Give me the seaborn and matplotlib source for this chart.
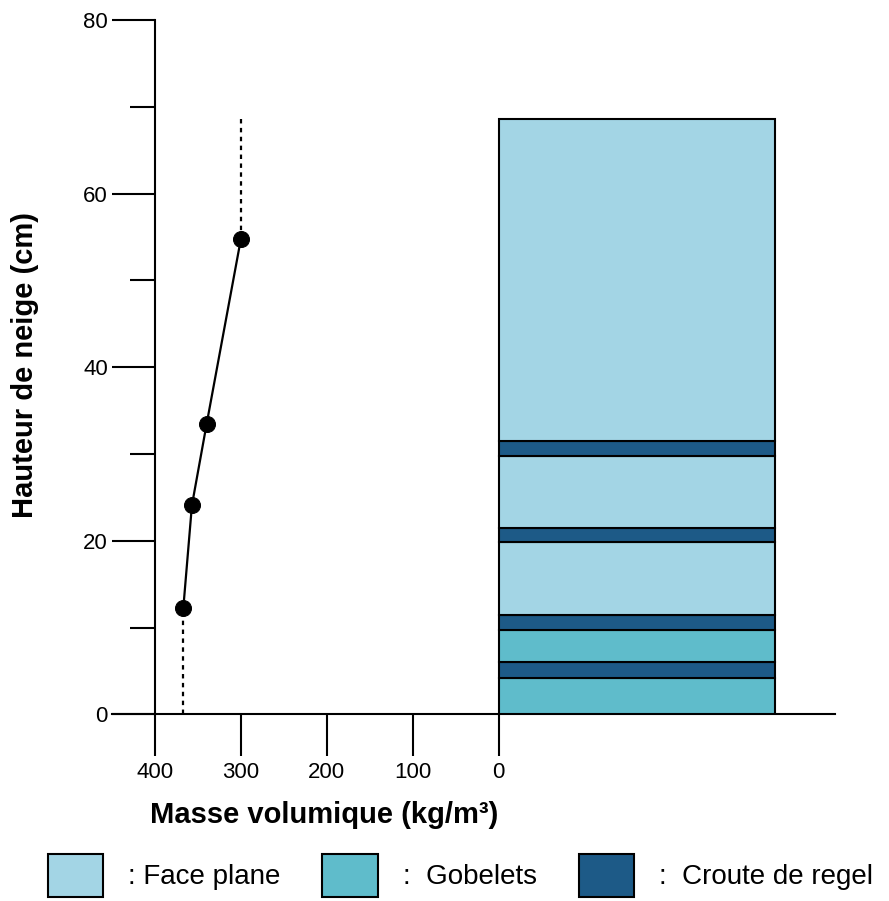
import pandas as pd
import matplotlib.pyplot as plt
import seaborn as sns
from matplotlib.patches import Patch

# Profil de masse volumique (kg/m3) en fonction de la hauteur (cm)
densite = [367, 357, 340, 300]
hauteur = [12.3, 24.1, 33.4, 54.8]
sommet_neige = 68.6

# Couches du manteau neigeux (bas -> haut)
couche_bas = [0, 4.2, 6.0, 9.7, 11.5, 19.8, 21.5, 29.8, 31.5]
couche_haut = [4.2, 6.0, 9.7, 11.5, 19.8, 21.5, 29.8, 31.5, 68.6]
couche_type = ['Gobelets', 'Croute de regel', 'Gobelets', 'Croute de regel', 'Face plane',
               'Croute de regel', 'Face plane', 'Croute de regel', 'Face plane']
largeur_colonne = 321

types = ['Face plane', 'Gobelets', 'Croute de regel']
legende = [': Face plane', ':  Gobelets', ':  Croute de regel']
couleurs = {'Face plane': '#a3d5e5', 'Gobelets': '#5fbccb', 'Croute de regel': '#1d5a87'}

xticks = [-400, -300, -200, -100, 0]
xlabels = ['400', '300', '200', '100', '0']

sns.set_style('ticks')
plt.rcParams['font.family'] = ['Liberation Sans', 'DejaVu Sans']
plt.rcParams['text.color'] = 'black'
plt.rcParams['xtick.color'] = 'black'
plt.rcParams['ytick.color'] = 'black'

fig = plt.figure(figsize=(8.89, 9.01), dpi=100)
ax = fig.add_axes([0.126, 0.2072, 0.813, 0.7706])

df = pd.DataFrame({'x': [-d for d in densite], 'y': hauteur})
sns.lineplot(data=df, x='x', y='y', sort=False, estimator=None, color='black', lw=1.6,
             marker='o', markersize=11.5, markeredgecolor='black', ax=ax, zorder=5)

# prolongements pointillés
haut = pd.DataFrame({'x': [-densite[-1], -densite[-1]], 'y': [hauteur[-1], sommet_neige]})
bas = pd.DataFrame({'x': [-densite[0], -densite[0]], 'y': [0, hauteur[0]]})
for seg in (haut, bas):
    sns.lineplot(data=seg, x='x', y='y', sort=False, estimator=None, color='black',
                 lw=1.6, linestyle=(0, (2, 2)), ax=ax)

# colonne stratigraphique
for b, h, t in zip(couche_bas, couche_haut, couche_type):
    ax.bar(0, h - b, bottom=b, width=largeur_colonne, align='edge',
           color=couleurs[t], edgecolor='black', linewidth=1.5, zorder=3)

ax.set_xlim(-450, 391)
ax.set_ylim(0, 80)

for s in ['top', 'right']:
    ax.spines[s].set_visible(False)
ax.spines['left'].set_position(('data', -400))
ax.spines['left'].set_bounds(0, 80)
ax.spines['bottom'].set_position(('data', 0))
ax.spines['bottom'].set_bounds(-450, 391)
for s in ['left', 'bottom']:
    ax.spines[s].set_linewidth(1.5)
    ax.spines[s].set_color('black')

ax.set_xticks(xticks)
ax.set_xticklabels(xlabels)
ax.set_yticks([0, 20, 40, 60, 80])
ax.set_yticks([10, 30, 50, 70], minor=True)
ax.tick_params(axis='x', direction='out', length=30, width=1.5, labelsize=16, pad=4)
ax.tick_params(axis='y', which='major', direction='out', length=31, width=1.5, labelsize=16, pad=3)
ax.tick_params(axis='y', which='minor', direction='out', length=18, width=1.5)

ax.set_xlabel('')
ax.set_ylabel('')
fig.text(0.365, 0.095, 'Masse volumique (kg/m³)', fontsize=21, fontweight='bold', ha='center', va='center')
fig.text(0.028, 0.595, 'Hauteur de neige (cm)', fontsize=21, fontweight='bold',
         rotation=90, ha='center', va='center')

handles = [Patch(facecolor=couleurs[t], edgecolor='black', linewidth=1.5) for t in types]
fig.legend(handles, legende, ncol=3, loc='lower center', bbox_to_anchor=(0.518, -0.014),
           frameon=False, fontsize=20, handlelength=2.0, handleheight=2.0,
           columnspacing=1.5, handletextpad=0.9, borderaxespad=0.2)

fig.savefig('out.png', dpi=100)
